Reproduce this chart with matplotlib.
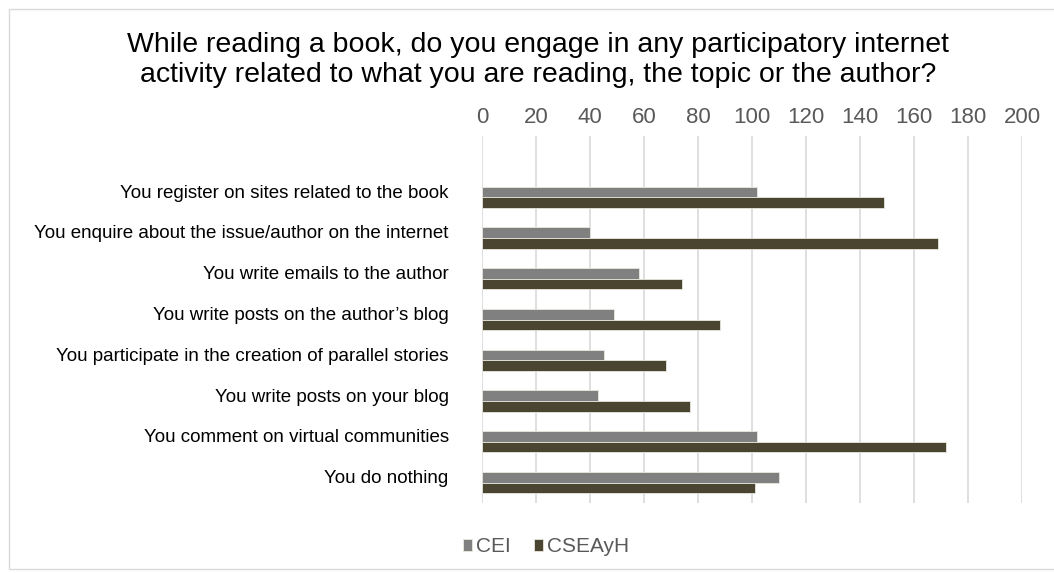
import numpy as np
import matplotlib.pyplot as plt
import matplotlib.transforms as mtransforms
from matplotlib.patches import Rectangle

plt.rcParams['font.family'] = ['Liberation Sans', 'DejaVu Sans']

categories = ['You register on sites related to the book',
              'You enquire about the issue/author on the internet',
              'You write emails to the author',
              'You write posts on the author\u2019s blog',
              'You participate in the creation of parallel stories',
              'You write posts on your blog',
              'You comment on virtual communities',
              'You do nothing']
cei = [102, 40, 58, 49, 45, 43, 102, 110]
cseayh = [149, 169, 74, 88, 68, 77, 172, 101]
ticks = [0, 20, 40, 60, 80, 100, 120, 140, 160, 180, 200]

W, H = 1054, 573
fig = plt.figure(figsize=(W / 100, H / 100), dpi=100)
fig.patches.append(Rectangle((9 / W, 4 / H), 1.0, (H - 13) / H, transform=fig.transFigure,
                             fill=False, edgecolor='#d9d9d9', linewidth=1))

ax = fig.add_axes([482 / W, (H - 503) / H, 540 / W, 367 / H])
y = np.arange(len(categories))
h = 0.26
ax.barh(y - h / 2, cei, height=h, color='#7f807f', edgecolor='#e8e8e0', linewidth=0.6,
        label='CEI', zorder=3)
ax.barh(y + h / 2, cseayh, height=h, color='#4a4530', edgecolor='#e8e8e0', linewidth=0.6,
        label='CSEAyH', zorder=3)

ax.set_xlim(0, 200)
ax.set_ylim(7.5, -1.5)
ax.set_xticks(ticks)
ax.xaxis.tick_top()
ax.tick_params(axis='x', length=0, pad=6, labelsize=16, labelcolor='#595959')
ax.set_yticks(y)
ax.set_yticklabels(categories)
ax.tick_params(axis='y', length=0, pad=24, labelsize=13.5, labelcolor='#000000')
# labels sit a little above the bar pairs in the original
shift = mtransforms.ScaledTranslation(0, 6 / 100, fig.dpi_scale_trans)
for lab in ax.get_yticklabels():
    lab.set_transform(lab.get_transform() + shift)
ax.grid(axis='x', color='#d9d9d9', linewidth=1.2, zorder=0)
for s in ax.spines.values():
    s.set_visible(False)

fig.text(538 / W, 1 - 60 / H,
         'While reading a book, do you engage in any participatory internet\n'
         'activity related to what you are reading, the topic or the author?',
         ha='center', va='center', fontsize=20.5, linespacing=1.2)

leg = fig.legend(loc='center', bbox_to_anchor=(546 / W, 1 - 547 / H), ncol=2, frameon=False,
                 fontsize=15, handlelength=0.45, handleheight=0.45, handletextpad=0.2,
                 columnspacing=1.1)
for t in leg.get_texts():
    t.set_color('#595959')

fig.savefig('out.png', dpi=100)
